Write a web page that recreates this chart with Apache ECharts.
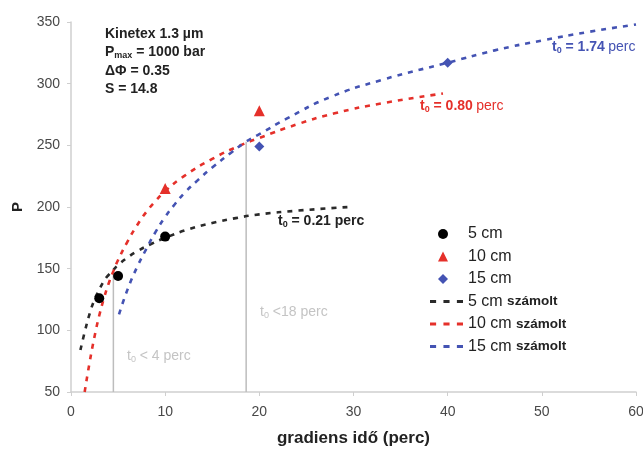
<!DOCTYPE html>
<html>
<head>
<meta charset="utf-8">
<script src="https://cdn.jsdelivr.net/npm/echarts@6/dist/echarts.min.js"></script>
<style>
html,body{margin:0;padding:0;background:#fff;}
#c{width:643px;height:449px;}
</style>
</head>
<body>
<div id="c"></div>
<script>
// ---- data ----
var xTicks = [0, 10, 20, 30, 40, 50, 60];
var yTicks = [50, 100, 150, 200, 250, 300, 350];

var meas5 = [[3, 126], [5, 144], [10, 176]];
var meas10 = [[10, 215], [20, 278]];
var meas15 = [[20, 249], [40, 317]];

var calc5 = [[1, 84], [1.5, 100], [2, 114], [2.5, 125], [3, 133], [3.5, 140], [4, 145], [4.5, 149], [5, 153], [6, 159], [7, 164], [8.5, 170], [10, 175], [12.5, 182], [15, 187], [17.5, 191], [20, 194], [24, 197], [29.5, 200]];
var calc10 = [[1.45, 50], [2, 75], [2.5, 95], [3, 112], [3.5, 126], [4, 138], [4.5, 148], [5, 157], [6, 172], [7, 185], [8, 196], [9, 205], [10, 213], [12, 225], [15, 239], [18, 250], [20, 256], [24, 267], [28, 276], [33, 284], [39.5, 292]];
var calc15 = [[5.1, 113], [6, 133], [7, 151], [8, 166], [9, 180], [10, 192], [11, 202], [12, 211], [13.5, 222], [15, 232], [17, 244], [18.6, 253], [20, 259], [23, 272], [27.5, 289], [33, 303], [40, 317], [45, 327], [50, 335], [55, 342], [60, 348]];

var limit4 = [[4.5, 50], [4.5, 147]];
var limit18 = [[18.6, 50], [18.6, 253]];

var seriesNames = ['5 cm', '10 cm', '15 cm', '5 cm számolt', '10 cm számolt', '15 cm számolt'];

var chart = echarts.init(document.getElementById('c'), null, {renderer: 'canvas'});
var FONT = 'Liberation Sans, Arial, sans-serif';
var RED = '#e5302a', BLUE = '#4453b3', BLACK = '#2a2a2a', GRAY = '#bdbdbd';
var DASH_ICON = 'path://M0,0h5v2.5h-5z M11,0h5v2.5h-5z M22,0h5v2.5h-5z';

function dashed(name, data, color) {
  return {
    name: name, type: 'line', data: data, smooth: true, symbol: 'none', showSymbol: false,
    lineStyle: {color: color, width: 2.6, type: [5, 6]}, itemStyle: {color: color},
    z: 3, silent: true
  };
}
function vline(data) {
  return {
    type: 'line', data: data, symbol: 'none', lineStyle: {color: GRAY, width: 1.5}, z: 2, silent: true
  };
}
function sub(fill, weight, size) {
  return {fontFamily: FONT, fontSize: size || 9, fontWeight: weight, fill: fill, padding: [7, 0, 0, 0]};
}
var legendRich = {
  sp: {width: 15},
  a: {fontFamily: FONT, fontSize: 16, color: '#222'},
  b: {fontFamily: FONT, fontSize: 13.5, fontWeight: 'bold', color: '#222'}
};

chart.setOption({
  animation: false,
  backgroundColor: '#fff',
  grid: {left: 71, right: 7, top: 22, bottom: 57, containLabel: false, outerBoundsMode: 'none'},
  xAxis: {
    type: 'value', min: xTicks[0], max: xTicks[xTicks.length - 1], interval: 10,
    name: 'gradiens idő (perc)', nameLocation: 'middle', nameGap: 38,
    nameTextStyle: {fontFamily: FONT, fontWeight: 'bold', fontSize: 17, color: '#222'},
    axisLine: {show: true, lineStyle: {color: '#cfcfcf', width: 1.5}},
    axisTick: {show: true, length: 4, lineStyle: {color: '#cfcfcf'}},
    axisLabel: {fontFamily: FONT, fontSize: 14, color: '#484848', margin: 13},
    splitLine: {show: false}
  },
  yAxis: {
    type: 'value', min: yTicks[0], max: yTicks[yTicks.length - 1], interval: 50,
    name: 'P', nameLocation: 'middle', nameGap: 46, nameRotate: 90,
    nameTextStyle: {fontFamily: FONT, fontWeight: 'bold', fontSize: 15, color: '#222'},
    axisLine: {show: true, lineStyle: {color: '#cfcfcf', width: 1.5}},
    axisTick: {show: true, length: 4, lineStyle: {color: '#cfcfcf'}},
    axisLabel: {fontFamily: FONT, fontSize: 14, color: '#484848', margin: 11},
    splitLine: {show: false}
  },
  legend: [{
    orient: 'vertical', left: 433, top: 221,
    itemWidth: 10, itemHeight: 10, itemGap: 6.5,
    data: seriesNames.slice(0, 3),
    textStyle: {fontFamily: FONT, fontSize: 16, color: '#222', rich: legendRich},
    formatter: function (n) { return '{sp|}{a|' + n + '}'; },
    selectedMode: false
  }, {
    orient: 'vertical', left: 425, top: 288.5,
    itemWidth: 33, itemHeight: 10, itemGap: 6.5,
    icon: DASH_ICON,
    data: seriesNames.slice(3),
    textStyle: {fontFamily: FONT, fontSize: 16, color: '#222', rich: legendRich},
    formatter: function (n) {
      var p = n.split(' számolt');
      return '{a|' + p[0] + '} {b|számolt}';
    },
    selectedMode: false
  }],
  series: [
    vline(limit4), vline(limit18),
    dashed(seriesNames[3], calc5, BLACK),
    dashed(seriesNames[4], calc10, RED),
    dashed(seriesNames[5], calc15, BLUE),
    {name: seriesNames[0], type: 'scatter', data: meas5, symbol: 'circle', symbolSize: 10, itemStyle: {color: '#000', opacity: 1}, z: 5},
    {name: seriesNames[1], type: 'scatter', data: meas10, symbol: 'triangle', symbolSize: 11, itemStyle: {color: RED, opacity: 1}, z: 5},
    {name: seriesNames[2], type: 'scatter', data: meas15, symbol: 'diamond', symbolSize: 10, itemStyle: {color: BLUE, opacity: 1}, z: 5}
  ],
  graphic: [
    {type: 'text', left: 105, top: 27, z: 10, style: {
      text: '{b|Kinetex 1.3 µm}\n{b|P}{s|max}{b| = 1000 bar}\n{b|ΔΦ = 0.35}\n{b|S = 14.8}',
      rich: {b: {fontFamily: FONT, fontSize: 14, fontWeight: 'bold', fill: '#222', lineHeight: 18.5},
             s: {fontFamily: FONT, fontSize: 9, fontWeight: 'bold', fill: '#222', lineHeight: 18.5, padding: [7, 0, 0, 0]}}
    }},
    {type: 'text', left: 278, top: 214, z: 10, style: {
      text: '{b|t}{s|0}{b| = 0.21 perc}',
      rich: {b: {fontFamily: FONT, fontSize: 14, fontWeight: 'bold', fill: '#222'}, s: sub('#222', 'bold')}
    }},
    {type: 'text', left: 420, top: 99, z: 10, style: {
      text: '{b|t}{s|0}{b| = 0.80} {n|perc}',
      rich: {b: {fontFamily: FONT, fontSize: 14, fontWeight: 'bold', fill: RED}, s: sub(RED, 'bold'), n: {fontFamily: FONT, fontSize: 14, fill: RED}}
    }},
    {type: 'text', left: 552, top: 40, z: 10, style: {
      text: '{b|t}{s|0}{b| = 1.74} {n|perc}',
      rich: {b: {fontFamily: FONT, fontSize: 14, fontWeight: 'bold', fill: BLUE}, s: sub(BLUE, 'bold'), n: {fontFamily: FONT, fontSize: 14, fill: BLUE}}
    }},
    {type: 'text', left: 127, top: 349, z: 10, style: {
      text: '{b|t}{s|0}{b| < 4 perc}',
      rich: {b: {fontFamily: FONT, fontSize: 14, fill: '#c4c4c4'}, s: sub('#c4c4c4', 'normal')}
    }},
    {type: 'text', left: 260, top: 305, z: 10, style: {
      text: '{b|t}{s|0}{b| <18 perc}',
      rich: {b: {fontFamily: FONT, fontSize: 14, fill: '#c4c4c4'}, s: sub('#c4c4c4', 'normal')}
    }}
  ]
});
</script>
</body>
</html>
